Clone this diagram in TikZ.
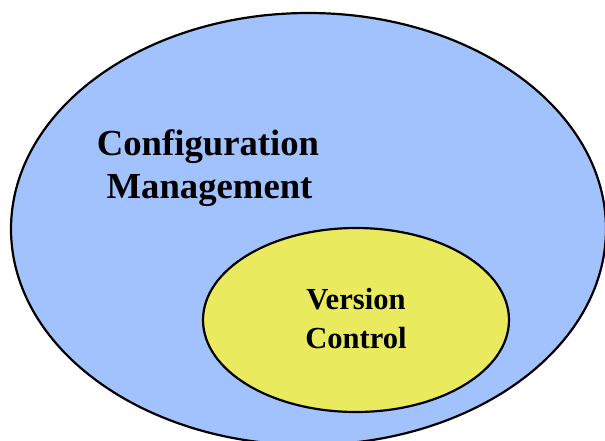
\documentclass[tikz,border=0pt]{standalone}
\usepackage{fontspec}
\setmainfont{Liberation Serif}
\usetikzlibrary{shapes.geometric}
\definecolor{cmblue}{RGB}{162,194,254}
\definecolor{vcyellow}{RGB}{233,234,94}
\tikzset{
  setshape/.style={ellipse, draw=black, line width=2.2pt, inner sep=0pt},
  bigtext/.style={font=\bfseries\fontsize{36.7}{43}\selectfont, anchor=base, inner sep=0pt},
  smalltext/.style={font=\bfseries\fontsize{30.6}{39}\selectfont, anchor=base, inner sep=0pt}
}
\begin{document}
\begin{tikzpicture}[x=1pt, y=-1pt]
  \useasboundingbox (0,0) rectangle (605,440);
  \clip (0,0) rectangle (605,440);
  % outer set: configuration management
  \node[setshape, fill=cmblue, minimum width=595, minimum height=432] (cm) at (308.5,229) {};
  \node[bigtext] (cmline1) at (208,155) {Configuration};
  \node[bigtext] (cmline2) at (209.5,198) {Management};
  % inner set: version control
  \node[setshape, fill=vcyellow, minimum width=306, minimum height=184] (vc) at (356,320) {};
  \node[smalltext] (vcline1) at (356,309) {Version};
  \node[smalltext] (vcline2) at (356,348) {Control};
\end{tikzpicture}
\end{document}
